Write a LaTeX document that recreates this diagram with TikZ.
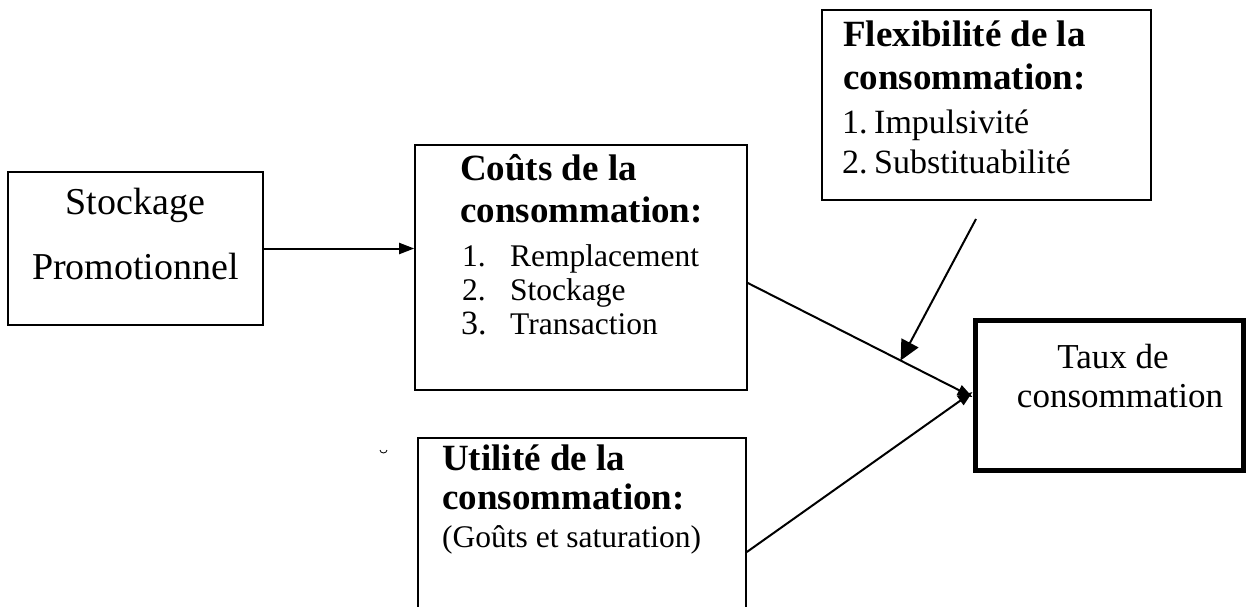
\documentclass[tikz,border=0pt]{standalone}
\usepackage{fontspec}
\setmainfont{Liberation Serif}
\usetikzlibrary{arrows.meta}
\tikzset{
  box/.style={draw, line width=1.6pt, inner sep=0pt},
  bigbox/.style={draw, line width=5pt, inner sep=0pt},
  txt/.style={anchor=base west, inner sep=0pt},
  ctxt/.style={anchor=base, inner sep=0pt},
  bighead/.style={font=\fontsize{37}{42}\selectfont\bfseries},
  item/.style={font=\fontsize{31.5}{36}\selectfont},
  fitem/.style={font=\fontsize{34}{38}\selectfont},
  plain/.style={font=\fontsize{38}{44}\selectfont},
  tplain/.style={font=\fontsize{35}{40}\selectfont},
  conn/.style={line width=2pt, -{Triangle[length=15pt,width=11pt]}},
  bconn/.style={line width=2pt, -{Triangle[length=20pt,width=19pt]}}
}
\begin{document}
\begin{tikzpicture}[x=1pt,y=-1pt]
\useasboundingbox (0,0) rectangle (1247,606);
\clip (0,0) rectangle (1247,606);

% boxes
\node[box, minimum width=255, minimum height=153] (stock) at (135.5,248.5) {};
\node[box, minimum width=332, minimum height=245] (couts) at (581,267.5) {};
\node[box, minimum width=328, minimum height=200] (util) at (582,538) {};
\node[box, minimum width=329, minimum height=190] (flex) at (986.5,105) {};
\node[bigbox, minimum width=268, minimum height=150] (taux) at (1109,395) {};

% Stockage texts
\node[ctxt, plain] (s1) at (135.5,214) {Stockage};
\node[ctxt, plain] (s2) at (135.5,279) {Promotionnel};

% Couts texts
\node[txt, bighead] (c1) at (460,180) {Coûts de la};
\node[txt, bighead] (c2) at (460,222) {consommation:};
\node[txt, item] (c3n) at (462,266) {1.};
\node[txt, item] (c3) at (510,266) {Remplacement};
\node[txt, item] (c4n) at (462,300) {2.};
\node[txt, item] (c4) at (510,300) {Stockage};
\node[txt, font=\fontsize{34}{38}\selectfont] (c5n) at (461,334) {3.};
\node[txt, item] (c5) at (510,334) {Transaction};

% Utilite texts
\node[txt, bighead] (u1) at (442,470) {Utilité de la};
\node[txt, bighead] (u2) at (442,509) {consommation:};
\node[txt, item] (u3) at (442,547) {(Goûts et saturation)};

% Flexibilite texts
\node[txt, bighead] (f1) at (843,46) {Flexibilité de la};
\node[txt, bighead] (f2) at (843,89) {consommation:};
\node[txt, fitem] (f3n) at (842,133) {1.};
\node[txt, fitem] (f3) at (874,133) {Impulsivité};
\node[txt, fitem] (f4n) at (842,173) {2.};
\node[txt, fitem] (f4) at (874,173) {Substituabilité};

% Taux texts
\node[ctxt, tplain] (t1) at (1113,368) {Taux de};
\node[ctxt, tplain] (t2) at (1120,407) {consommation};

% stray mark
\draw[line width=0.8pt] (380,450) arc (180:360:3.5pt and 3pt);

% connectors
\draw[conn] (stock.east) -- (stock.east -| couts.west);
\coordinate (cstart) at ([yshift=-15.5pt]couts.east);
\coordinate (ustart) at ([yshift=-14pt]util.east);
\coordinate (tin1) at ([yshift=-2pt]taux.west);
\coordinate (tin2) at ([yshift=3pt]taux.west);
\draw[conn] (cstart) -- coordinate[pos=0.68] (mid) (tin1);
\draw[conn] (ustart) -- (tin2);
\coordinate (fstart) at (976,219);
\draw[bconn] (fstart) -- (mid);
\end{tikzpicture}
\end{document}
